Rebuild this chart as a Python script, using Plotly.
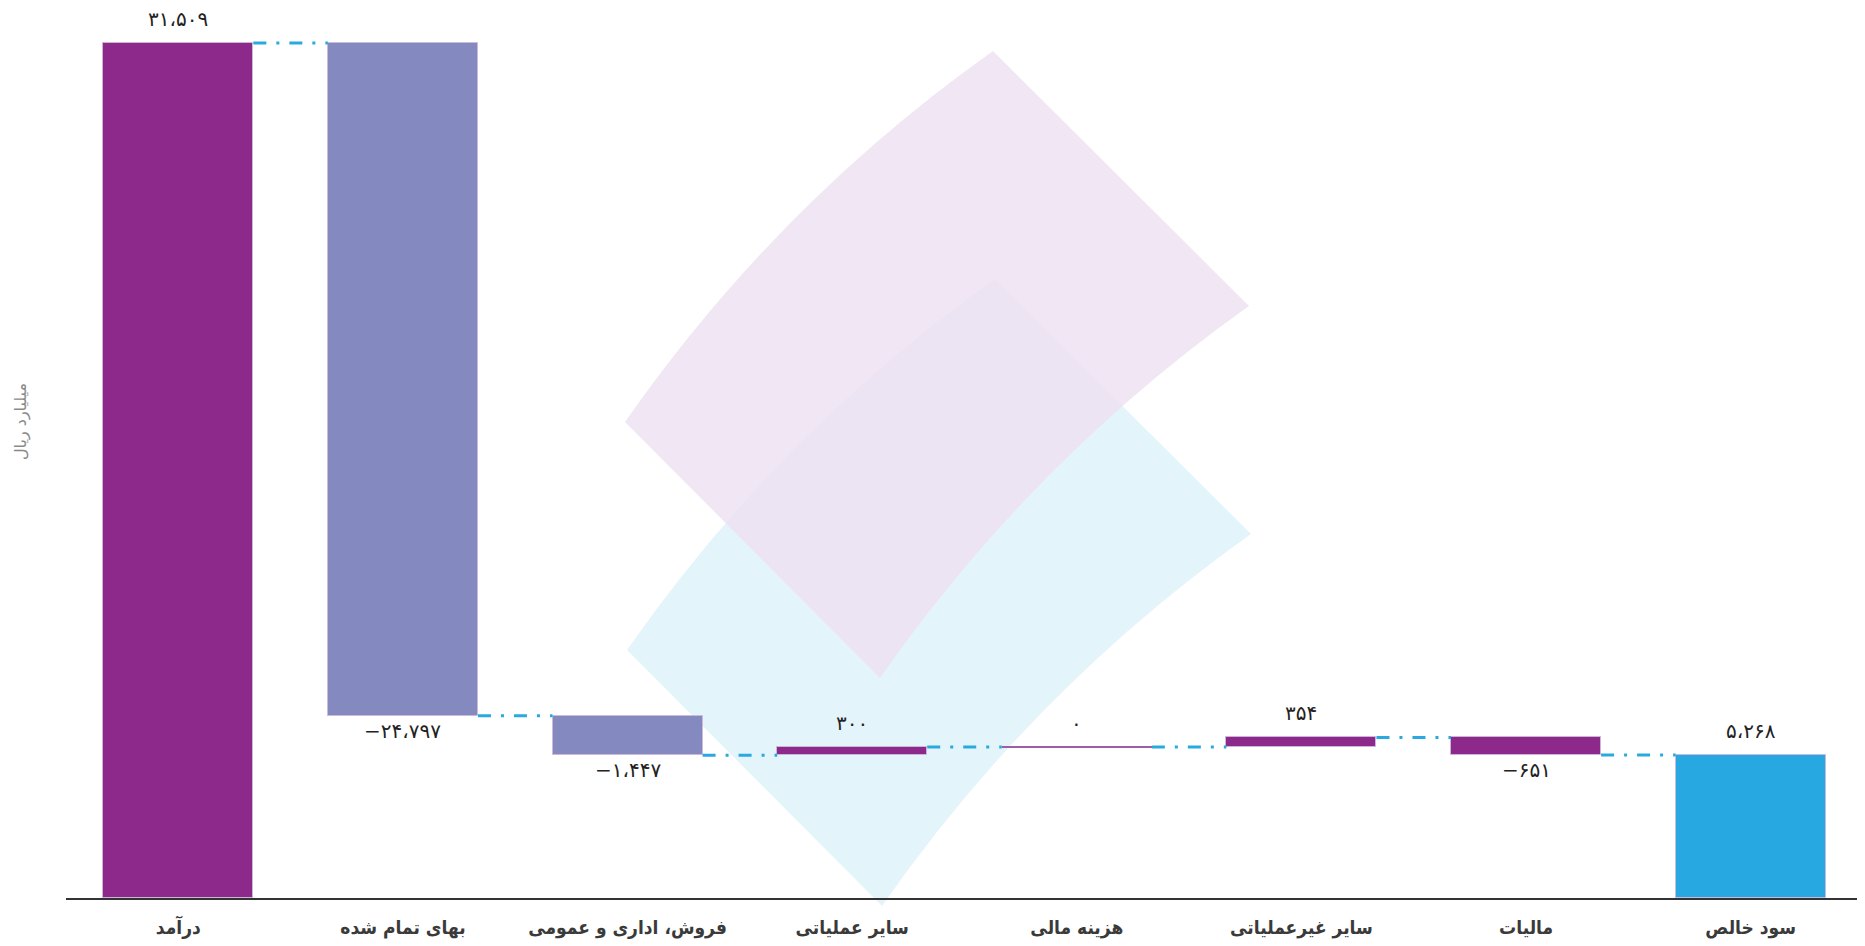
import plotly.graph_objects as go

categories = ["درآمد", "بهای تمام شده", "فروش، اداری و عمومی", "سایر عملیاتی",
              "هزینه مالی", "سایر غیرعملیاتی", "مالیات", "سود خالص"]
values = [31509, -24797, -1447, 300, 0, 354, -651, 5268]
measures = ["total", "relative", "relative", "relative", "relative", "relative", "relative", "total"]
bar_colors = ["#8E298C", "#8489C0", "#8489C0", "#8E298C", "#8E298C", "#8E298C", "#8E298C", "#27A8E0"]
y_title = "میلیارد ریال"

FA = str.maketrans("0123456789,-", "۰۱۲۳۴۵۶۷۸۹،−")


def fa(v):
    return f"{v:,}".translate(FA)


# compute bases / levels
bases, tops, levels = [], [], []
level = 0
for v, m in zip(values, measures):
    if m == "total":
        level = v
        bases.append(0)
        tops.append(v)
    else:
        bases.append(min(level, level + v))
        tops.append(max(level, level + v))
        level = level + v
    levels.append(level)
heights = [t - b for t, b in zip(tops, bases)]
xs = list(range(len(categories)))
W = 0.668
line_colors = ["#9B5FA8" if h == 0 else "rgba(205,185,220,0.9)" for h in heights]
line_widths = [2 if h == 0 else 1 for h in heights]

fig = go.Figure()
fig.add_trace(go.Bar(
    x=xs, y=heights, base=bases, width=W,
    marker=dict(color=bar_colors, line=dict(color=line_colors, width=line_widths)),
    showlegend=False, hoverinfo="skip",
))

# connectors
for i in range(len(xs) - 1):
    fig.add_trace(go.Scatter(
        x=[xs[i] + W / 2, xs[i + 1] - W / 2], y=[levels[i], levels[i]],
        mode="lines", line=dict(color="#29A9E0", width=3, dash="13px,10px,3px,10px"),
        showlegend=False, hoverinfo="skip",
    ))

VFONT = dict(family="DejaVu Sans", size=20, color="#222")
annotations = []
for i, v in enumerate(values):
    if v >= 0:
        annotations.append(dict(x=xs[i], y=tops[i], text=fa(v), showarrow=False,
                                yanchor="middle", yshift=24, font=VFONT))
    else:
        annotations.append(dict(x=xs[i], y=bases[i], text=fa(v), showarrow=False,
                                yanchor="middle", yshift=-15, font=VFONT))

# page body has an 8px margin: compensate so the plot sits where the reference has it
OFF = 8
FW, FH = 1865 - OFF, 946 - OFF
L, R, T, B = 66 - OFF, 2, 0, 48
PW, PH = FW - L - R, FH - T - B


def P(px, py):
    return f"{(px - OFF - L) / PW:.5f},{(T + PH - (py - OFF)) / PH:.5f}"


def logo(dx, dy):
    pts = [(625, 422), (777, 204), (993, 51), (1249, 306), (1032, 460), (880, 678)]
    p = [(x + dx, y + dy) for x, y in pts]
    return (f"M {P(*p[0])} Q {P(*p[1])} {P(*p[2])} L {P(*p[3])} "
            f"Q {P(*p[4])} {P(*p[5])} Z")


shapes = [
    dict(type="path", xref="paper", yref="paper", path=logo(2, 228),
         fillcolor="rgb(228,244,251)", line=dict(width=0), layer="below"),
    dict(type="path", xref="paper", yref="paper", path=logo(0, 0),
         fillcolor="rgba(238,224,240,0.8)", line=dict(width=0), layer="below"),
]

annotations.append(dict(xref="paper", yref="paper",
                        x=(21 - OFF - L) / PW, y=(T + PH - (422 - OFF)) / PH,
                        xanchor="center", yanchor="middle",
                        text=y_title, textangle=-90, showarrow=False,
                        font=dict(family="DejaVu Sans", size=16, color="#8a8a8a")))

# y range so that the first bar top lands at page y=43 and zero at page y=898
ymax = values[0] * PH / (898 - 43)

fig.update_layout(
    width=FW, height=FH,
    margin=dict(l=L, r=R, t=T, b=B),
    plot_bgcolor="white", paper_bgcolor="white",
    bargap=0,
    shapes=shapes, annotations=annotations,
    xaxis=dict(range=[-0.5, len(xs) - 0.5], tickvals=xs, ticktext=categories,
               showgrid=False, zeroline=False, showline=True, linecolor="#333", linewidth=2,
               ticks="", ticklabelstandoff=11,
               tickfont=dict(family="DejaVu Sans Condensed", size=19, color="#3a3a3a",
                             weight="bold")),
    yaxis=dict(range=[0, ymax], visible=False, showgrid=False, zeroline=False),
)

fig.write_html("out.html")
